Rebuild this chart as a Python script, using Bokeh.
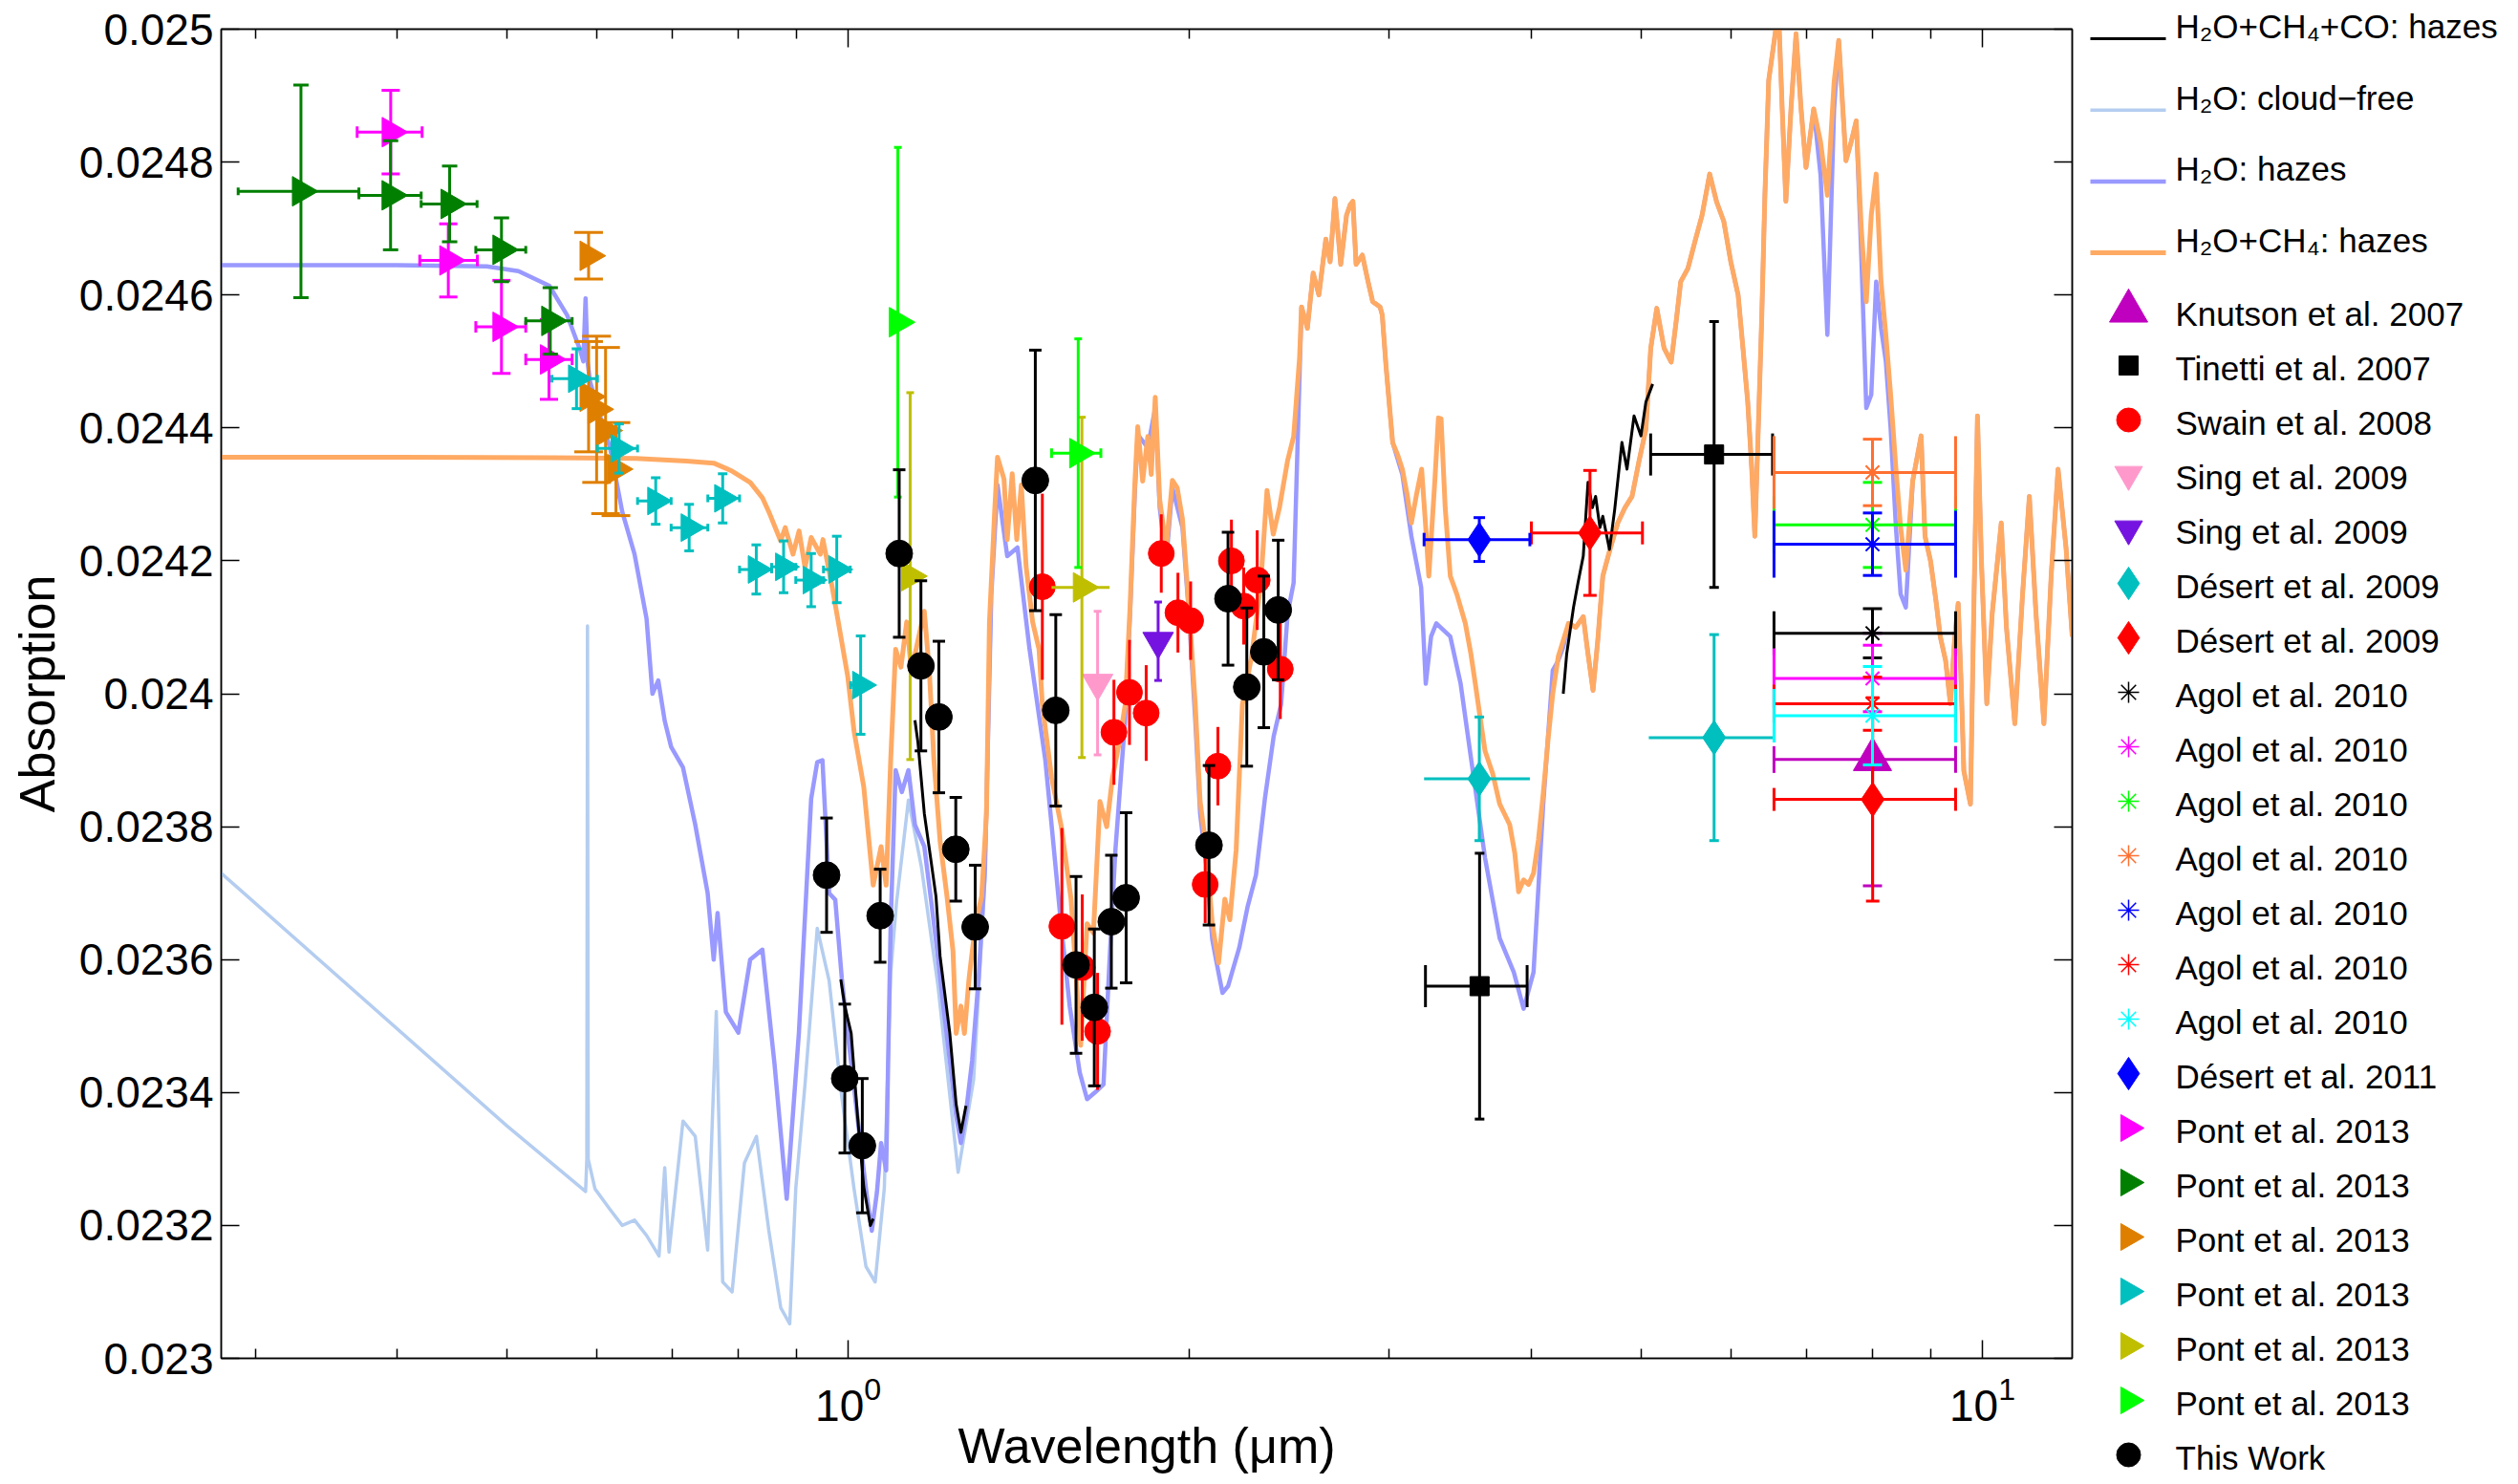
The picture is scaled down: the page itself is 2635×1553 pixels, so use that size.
import math
import numpy as np
from bokeh.plotting import figure
from bokeh.layouts import row
from bokeh.models import Range1d, FixedTicker, LinearAxis, CustomJSTickFormatter
from bokeh.embed import file_html
from bokeh.resources import INLINE
from bokeh.core.properties import value

NAN = float("nan")
FONT = "Liberation Sans"

# ---------------- axes ----------------
x_major_ticks = [1, 10]
x_minor_ticks = [0.3, 0.4, 0.5, 0.6, 0.7, 0.8, 0.9, 2, 3, 4, 5, 6, 7, 8, 9]
y_ticks = [0.023, 0.0232, 0.0234, 0.0236, 0.0238, 0.024, 0.0242, 0.0244, 0.0246, 0.0248, 0.025]

# ---------------- model spectra (wavelength um, absorption) ----------------
model_co = [(0.985, 0.02357), (0.993, 0.02353), (1.006, 0.023489), (1.019, 0.023365), (1.032, 0.023258),
            (1.046, 0.0232), (1.052, 0.02321), (NAN, NAN),
            (1.145, 0.02396), (1.152, 0.023927), (1.167, 0.02382), (1.182, 0.023753), (1.195, 0.023695),
            (1.205, 0.023605), (1.229, 0.023489), (1.245, 0.023382), (1.257, 0.02334), (1.27, 0.02338), (NAN, NAN),
            (4.27, 0.024), (4.30, 0.02406), (4.36, 0.02413), (4.40, 0.024167), (4.447, 0.024207), (4.49, 0.024318),
            (4.53, 0.02428), (4.56, 0.024297), (4.60, 0.02425), (4.627, 0.024267), (4.69, 0.024217), (4.74, 0.024277),
            (4.81, 0.024378), (4.86, 0.024338), (4.93, 0.024418), (5.0, 0.024388), (5.05, 0.024439), (5.12, 0.024466)]

model_clear = [(0.28, 0.02373), (0.50, 0.02335), (0.5867, 0.023251), (0.5882, 0.0233), (0.589, 0.024102),
               (0.5898, 0.0233), (0.598, 0.023255), (0.6166, 0.023224), (0.632, 0.0232), (0.648, 0.023208),
               (0.664, 0.023185), (0.681, 0.023154), (0.689, 0.023287), (0.695, 0.02316), (0.715, 0.023357),
               (0.733, 0.023334), (0.7517, 0.023163), (0.765, 0.023522), (0.775, 0.023115), (0.79, 0.0231),
               (0.81, 0.023294), (0.83, 0.023334), (0.851, 0.023193), (0.872, 0.023076), (0.888, 0.023052),
               (0.899, 0.023256), (0.916, 0.023412), (0.939, 0.023647), (0.962, 0.023568), (0.9865, 0.023396),
               (1.0117, 0.023256), (1.0367, 0.023138), (1.0562, 0.023115), (1.076, 0.023256), (1.09, 0.02358),
               (1.103, 0.023686), (1.13, 0.02384), (1.16, 0.02374), (1.20, 0.02356), (1.25, 0.02328),
               (1.29, 0.02342), (1.32, 0.02372), (1.337, 0.02414)]

model_h2o = [(0.28, 0.024645), (0.40, 0.024645), (0.48, 0.024643), (0.512, 0.024636), (0.545, 0.024614),
             (0.565, 0.02457), (0.58, 0.024518), (0.584, 0.0245), (0.5867, 0.024595), (0.589, 0.0245),
             (0.592, 0.02447), (0.6015, 0.024428), (0.6166, 0.02437), (0.632, 0.024274), (0.648, 0.02421),
             (0.664, 0.024113), (0.672, 0.024), (0.68, 0.02402), (0.689, 0.023959), (0.698, 0.02392),
             (0.715, 0.023889), (0.733, 0.023803), (0.7517, 0.0237), (0.761, 0.0236), (0.767, 0.02367),
             (0.78, 0.023521), (0.80, 0.02349), (0.8195, 0.0236), (0.84, 0.023615), (0.861, 0.023443),
             (0.8826, 0.02324), (0.9047, 0.02349), (0.9275, 0.023842), (0.939, 0.023897), (0.949, 0.0239),
             (0.962, 0.0237), (0.974, 0.02369), (0.987, 0.023572), (0.999, 0.023489), (1.012, 0.023407),
             (1.025, 0.023324), (1.039, 0.023242), (1.049, 0.023192), (1.06, 0.02325), (1.069, 0.023324),
             (1.08, 0.023283), (1.09, 0.023654), (1.101, 0.023885), (1.115, 0.023852), (1.13, 0.023885),
             (1.145, 0.023803), (1.167, 0.02377), (1.182, 0.023695), (1.198, 0.023613), (1.213, 0.02353),
             (1.229, 0.023448), (1.245, 0.023365), (1.257, 0.023324), (1.269, 0.023365), (1.286, 0.023448),
             (1.303, 0.023572), (1.32, 0.023737), (1.337, 0.024149), (1.354, 0.024314), (1.381, 0.024207),
             (1.41, 0.02422), (1.445, 0.024067), (1.492, 0.0239), (1.511, 0.023803), (1.541, 0.02365),
             (1.568, 0.023529), (1.60, 0.02343), (1.624, 0.02339), (1.65, 0.0234), (1.679, 0.023412),
             (1.70, 0.0236), (1.72, 0.023764), (1.754, 0.023959), (1.772, 0.02412), (1.789, 0.0243),
             (1.80, 0.02439), (1.837, 0.02437), (1.865, 0.02443), (1.882, 0.02428), (1.907, 0.0242),
             (1.931, 0.02431), (1.971, 0.02425), (1.997, 0.02412), (2.023, 0.02396), (2.043, 0.02382),
             (2.069, 0.02374), (2.094, 0.02363), (2.123, 0.023576), (2.138, 0.02355), (2.162, 0.02356),
             (2.212, 0.023618), (2.25, 0.02368), (2.288, 0.023727), (2.33, 0.023842), (2.372, 0.023936),
             (2.408, 0.023984), (2.44, 0.02412), (2.47, 0.024167), (2.50, 0.02448), (2.51, 0.024582),
             (2.54, 0.02455), (2.57, 0.024633), (2.60, 0.0246), (2.637, 0.024684), (2.66, 0.02465),
             (2.686, 0.024745), (2.718, 0.024646), (2.75, 0.02472), (2.771, 0.024736), (2.786, 0.024741),
             (2.804, 0.024646), (2.84, 0.02466), (2.873, 0.02462), (2.90, 0.02459), (2.944, 0.024582),
             (2.957, 0.02457), (2.98, 0.024492), (3.02, 0.024378), (3.08, 0.02433), (3.137, 0.024237),
             (3.20, 0.02416), (3.23, 0.024015), (3.265, 0.024086), (3.30, 0.024106), (3.395, 0.024086),
             (3.467, 0.024015), (3.54, 0.023904), (3.643, 0.023753), (3.753, 0.023632), (3.862, 0.023581),
             (3.94, 0.023526), (4.02, 0.023581), (4.10, 0.023834), (4.18, 0.024035), (4.227, 0.02405),
             (4.27, 0.02407), (4.316, 0.024106), (4.38, 0.0241), (4.447, 0.024116), (4.49, 0.02406),
             (4.536, 0.024005), (4.58, 0.02408), (4.627, 0.024177), (4.70, 0.02422), (4.77, 0.024257),
             (4.84, 0.02428), (4.91, 0.024297), (4.98, 0.02435), (5.05, 0.024398), (5.10, 0.02452),
             (5.163, 0.02458), (5.24, 0.02452), (5.316, 0.024499), (5.37, 0.02456), (5.42, 0.02462),
             (5.50, 0.02464), (5.58, 0.024681), (5.66, 0.02472), (5.748, 0.024782), (5.83, 0.02474),
             (5.915, 0.024711), (6.00, 0.02465), (6.09, 0.0246), (6.15, 0.02452), (6.21, 0.024439),
             (6.26, 0.02434), (6.30, 0.024237), (6.35, 0.02442), (6.39, 0.02457), (6.43, 0.02475),
             (6.48, 0.024923), (6.55, 0.02498), (6.61, 0.02503), (6.66, 0.02488), (6.71, 0.024741),
             (6.78, 0.02488), (6.85, 0.024993), (6.92, 0.02488), (6.99, 0.024792), (7.10, 0.02488),
             (7.20, 0.02478), (7.30, 0.02454), (7.40, 0.02488), (7.47, 0.024983), (7.58, 0.024802),
             (7.66, 0.02483), (7.74, 0.024862), (7.82, 0.02466), (7.90, 0.02443), (7.98, 0.02445),
             (8.06, 0.02462), (8.14, 0.02455), (8.22, 0.0245), (8.30, 0.0244), (8.39, 0.02425),
             (8.47, 0.02415), (8.56, 0.02413), (8.68, 0.02432), (8.83, 0.024388), (8.90, 0.024237),
             (9.00, 0.0242), (9.10, 0.02414), (9.18, 0.024086), (9.28, 0.02405), (9.37, 0.023985),
             (9.45, 0.02408), (9.52, 0.024136), (9.58, 0.02401), (9.63, 0.023884), (9.76, 0.023834),
             (9.82, 0.0241), (9.90, 0.024418), (9.98, 0.0242), (10.09, 0.023985), (10.2, 0.02412),
             (10.39, 0.024257), (10.5, 0.0241), (10.68, 0.023955), (10.85, 0.02415), (11.0, 0.024297),
             (11.15, 0.02412), (11.33, 0.023955), (11.5, 0.02418), (11.66, 0.024338), (11.85, 0.02422),
             (12.0, 0.024086)]

model_ch4 = [(0.28, 0.024356), (0.40, 0.024356), (0.55, 0.024355), (0.65, 0.024354), (0.72, 0.02435),
             (0.761, 0.024347), (0.79, 0.024335), (0.8195, 0.024318), (0.84, 0.024295), (0.851, 0.024274),
             (0.8718, 0.02423), (0.88, 0.02425), (0.8826, 0.024242), (0.894, 0.02421), (0.905, 0.024245),
             (0.916, 0.02419), (0.9275, 0.024235), (0.945, 0.02421), (0.95, 0.024232), (0.9685, 0.024158),
             (0.98, 0.024108), (0.999, 0.024026), (1.012, 0.023943), (1.032, 0.02386), (1.052, 0.023712),
             (1.069, 0.02377), (1.08, 0.023712), (1.09, 0.0239), (1.101, 0.024067), (1.113, 0.02404),
             (1.126, 0.024108), (1.137, 0.024034), (1.152, 0.02408), (1.167, 0.024124), (1.179, 0.024034),
             (1.19, 0.0239), (1.205, 0.023778), (1.222, 0.023695), (1.237, 0.023613), (1.245, 0.023489),
             (1.257, 0.02353), (1.266, 0.023489), (1.278, 0.023572), (1.295, 0.023654), (1.311, 0.023695),
             (1.324, 0.023819), (1.332, 0.024108), (1.346, 0.024273), (1.354, 0.024356), (1.372, 0.024323),
             (1.381, 0.024232), (1.395, 0.024331), (1.408, 0.024232), (1.421, 0.024314), (1.435, 0.024191),
             (1.454, 0.024108), (1.473, 0.024067), (1.483, 0.023984), (1.511, 0.023874), (1.541, 0.023801),
             (1.572, 0.023691), (1.603, 0.023471), (1.624, 0.023654), (1.645, 0.02364), (1.667, 0.023838),
             (1.69, 0.0238), (1.71, 0.023874), (1.733, 0.023925), (1.755, 0.023984), (1.772, 0.02413),
             (1.789, 0.024314), (1.80, 0.024402), (1.818, 0.02432), (1.837, 0.024387), (1.85, 0.02433),
             (1.865, 0.024446), (1.882, 0.024292), (1.907, 0.024219), (1.931, 0.024321), (1.95, 0.02431),
             (1.971, 0.024263), (1.997, 0.02413), (2.023, 0.023984), (2.043, 0.023838), (2.069, 0.023765),
             (2.094, 0.023654), (2.121, 0.023595), (2.148, 0.023691), (2.17, 0.02366), (2.198, 0.023765),
             (2.226, 0.023984), (2.268, 0.024056), (2.311, 0.024167), (2.34, 0.024306), (2.37, 0.02424),
             (2.40, 0.02428), (2.44, 0.024351), (2.47, 0.024387), (2.50, 0.024506), (2.51, 0.024582),
             (2.54, 0.02455), (2.57, 0.024633), (2.60, 0.0246), (2.637, 0.024684), (2.66, 0.02465),
             (2.686, 0.024745), (2.718, 0.024646), (2.75, 0.02472), (2.771, 0.024736), (2.786, 0.024741),
             (2.804, 0.024646), (2.84, 0.02466), (2.873, 0.02462), (2.90, 0.02459), (2.944, 0.024582),
             (2.957, 0.02457), (2.98, 0.024492), (3.02, 0.024378), (3.05, 0.02436), (3.08, 0.024338),
             (3.11, 0.0243), (3.137, 0.024257), (3.17, 0.0243), (3.203, 0.024338), (3.23, 0.02425),
             (3.25, 0.024177), (3.29, 0.02432), (3.314, 0.024415), (3.332, 0.024414), (3.36, 0.02428),
             (3.395, 0.024177), (3.44, 0.02415), (3.50, 0.024106), (3.54, 0.02406), (3.572, 0.024015),
             (3.61, 0.02396), (3.643, 0.023914), (3.70, 0.02388), (3.753, 0.023834), (3.83, 0.023803),
             (3.87, 0.02376), (3.90, 0.023702), (3.94, 0.02372), (3.98, 0.023713), (4.02, 0.02373),
             (4.06, 0.02378), (4.10, 0.02385), (4.142, 0.023934), (4.18, 0.024), (4.227, 0.024056),
             (4.27, 0.02408), (4.316, 0.024106), (4.38, 0.0241), (4.447, 0.024116), (4.49, 0.02406),
             (4.536, 0.024005), (4.58, 0.02408), (4.627, 0.024177), (4.70, 0.02422), (4.77, 0.024257),
             (4.84, 0.02428), (4.91, 0.024297), (4.98, 0.02435), (5.05, 0.024398), (5.10, 0.02452),
             (5.163, 0.02458), (5.24, 0.02452), (5.316, 0.024499), (5.37, 0.02456), (5.42, 0.02462),
             (5.50, 0.02464), (5.58, 0.024681), (5.66, 0.02472), (5.748, 0.024782), (5.83, 0.02474),
             (5.915, 0.024711), (6.00, 0.02465), (6.09, 0.0246), (6.15, 0.02452), (6.21, 0.024439),
             (6.26, 0.02434), (6.30, 0.024237), (6.35, 0.02442), (6.39, 0.02457), (6.43, 0.02475),
             (6.48, 0.024923), (6.55, 0.02498), (6.61, 0.02503), (6.66, 0.02488), (6.71, 0.024741),
             (6.78, 0.02488), (6.85, 0.024993), (6.92, 0.02488), (6.99, 0.024792), (7.10, 0.02488),
             (7.20, 0.02483), (7.30, 0.02475), (7.40, 0.02492), (7.47, 0.024983), (7.58, 0.024802),
             (7.66, 0.02483), (7.74, 0.024862), (7.82, 0.0247), (7.90, 0.02459), (7.98, 0.02472),
             (8.06, 0.024782), (8.14, 0.02462), (8.22, 0.02454), (8.30, 0.02445), (8.39, 0.024338),
             (8.47, 0.02425), (8.56, 0.024186), (8.68, 0.02432), (8.83, 0.024388), (8.90, 0.024237),
             (9.00, 0.0242), (9.10, 0.02414), (9.18, 0.024086), (9.28, 0.02405), (9.37, 0.023985),
             (9.45, 0.02408), (9.52, 0.024136), (9.58, 0.02401), (9.63, 0.023884), (9.76, 0.023834),
             (9.82, 0.0241), (9.90, 0.024418), (9.98, 0.0242), (10.09, 0.023985), (10.2, 0.02412),
             (10.39, 0.024257), (10.5, 0.0241), (10.68, 0.023955), (10.85, 0.02415), (11.0, 0.024297),
             (11.15, 0.02412), (11.33, 0.023955), (11.5, 0.02418), (11.66, 0.024338), (11.85, 0.02422),
             (12.0, 0.024086)]

# ---------------- observations ----------------
knutson_x = [8.0]
knutson_y = [0.023901]
knutson_err = [0.00019]
knutson_xlo = [6.55]
knutson_xhi = [9.47]

tinetti_x = [3.603, 5.80]
tinetti_y = [0.02356, 0.02436]
tinetti_err = [0.0002, 0.0002]
tinetti_xlo = [3.228, 5.099]
tinetti_xhi = [3.968, 6.531]

swain_x = [1.483, 1.543, 1.608, 1.659, 1.715, 1.770, 1.831, 1.888, 1.953, 2.004, 2.064, 2.118, 2.177, 2.232, 2.294, 2.404]
swain_y = [0.024161, 0.02365, 0.023588, 0.023492, 0.023942, 0.024002, 0.023971, 0.024211, 0.024122, 0.02411,
           0.023713, 0.023891, 0.0242, 0.024132, 0.024171, 0.024037]
swain_err = [0.00014, 0.000148, 0.00011, 0.000088, 0.000079, 0.000079, 0.000072, 0.000059, 0.00006, 0.000059,
             0.000058, 0.000059, 0.000062, 0.000058, 0.000075, 0.000075]

sing_a_x = [1.659]
sing_a_y = [0.024016]
sing_a_err = [0.000108]
sing_b_x = [1.876]
sing_b_y = [0.024079]
sing_b_err = [0.000059]

desert09a_x = [3.601, 5.80]
desert09a_y = [0.023872, 0.023934]
desert09a_err = [0.000093, 0.000155]
desert09a_xlo = [3.219, 5.08]
desert09a_xhi = [3.99, 6.55]

desert09b_x = [4.508, 8.003]
desert09b_y = [0.024242, 0.023841]
desert09b_err = [0.000094, 0.000153]
desert09b_xlo = [4.002, 6.55]
desert09b_xhi = [5.015, 9.47]

agol_wl = 8.0
agol_wl_lo = 6.55
agol_wl_hi = 9.47
agol_y = [0.024091, 0.024023, 0.024254, 0.024333, 0.024225, 0.023985, 0.023967]
agol_err = [0.000037, 0.00005, 0.000064, 0.00005, 0.000047, 0.00004, 0.000074]

desert11_x = [3.601]
desert11_y = [0.024232]
desert11_err = [0.000033]
desert11_xlo = [3.219]
desert11_xhi = [3.99]

pont_m_x = [0.395, 0.444, 0.4946, 0.5447]
pont_m_y = [0.024845, 0.024652, 0.024552, 0.024503]
pont_m_err = [0.000063, 0.000055, 0.00007, 0.00006]
pont_m_xlo = [0.369, 0.419, 0.4695, 0.5196]
pont_m_xhi = [0.421, 0.471, 0.5196, 0.5709]

pont_g_x = [0.3292, 0.3949, 0.4452, 0.4946, 0.5461]
pont_g_y = [0.024756, 0.02475, 0.024737, 0.024668, 0.024561]
pont_g_err = [0.00016, 0.000082, 0.000057, 0.000048, 0.00005]
pont_g_xlo = [0.2898, 0.3703, 0.4202, 0.4695, 0.5196]
pont_g_xhi = [0.3703, 0.4202, 0.4707, 0.5196, 0.5709]

pont_o_x = [0.5903, 0.5903, 0.600, 0.611, 0.624]
pont_o_y = [0.024659, 0.024447, 0.024428, 0.024396, 0.024338]
pont_o_err = [0.000035, 0.000083, 0.00011, 0.000125, 0.00007]

pont_c_x = [0.576, 0.628, 0.6765, 0.724, 0.775, 0.8297, 0.877, 0.9275, 0.977, 1.0255]
pont_c_y = [0.024474, 0.024369, 0.02429, 0.02425, 0.024294, 0.024187, 0.024191, 0.024171, 0.024187, 0.024013]
pont_c_err = [0.000045, 0.000037, 0.000035, 0.000035, 0.000037, 0.000037, 0.000039, 0.00004, 0.00005, 0.000074]
pont_c_xlo = [0.548, 0.601, 0.652, 0.698, 0.752, 0.802, 0.856, 0.899, 0.951, 1.005]
pont_c_xhi = [0.601, 0.652, 0.698, 0.752, 0.802, 0.856, 0.899, 0.951, 1.004, 1.045]

pont_y_x = [1.134, 1.607]
pont_y_y = [0.024177, 0.02416]
pont_y_err = [0.000276, 0.000256]
pont_y_xlo = [NAN, 1.511]
pont_y_xhi = [NAN, 1.70]

pont_l_x = [1.106, 1.595]
pont_l_y = [0.024559, 0.024362]
pont_l_err = [0.000263, 0.000172]
pont_l_xlo = [NAN, 1.511]
pont_l_xhi = [NAN, 1.67]

work_x = [0.957, 0.993, 1.029, 1.067, 1.109, 1.159, 1.202, 1.244, 1.294, 1.462,
          1.524, 1.588, 1.648, 1.706, 1.758, 2.080, 2.162, 2.246, 2.325, 2.394]
work_y = [0.023727, 0.023421, 0.02332, 0.023666, 0.024211, 0.024042, 0.023965, 0.023766, 0.023649, 0.024321,
          0.023975, 0.023592, 0.023528, 0.023657, 0.023693, 0.023772, 0.024143, 0.02401, 0.024063, 0.024126]
work_err = [0.000086, 0.000112, 0.000101, 0.00007, 0.000126, 0.000128, 0.000114, 0.000078, 0.000093, 0.000196,
            0.000144, 0.000133, 0.000118, 0.0001, 0.000128, 0.00012, 0.0001, 0.000119, 0.000114, 0.000105]

model_labels = ["H\u2082O+CH\u2084+CO: hazes", "H\u2082O: cloud\u2212free", "H\u2082O: hazes", "H\u2082O+CH\u2084: hazes"]
data_labels = ["Knutson et al. 2007", "Tinetti et al. 2007", "Swain et al. 2008", "Sing et al. 2009",
               "Sing et al. 2009", "D\u00e9sert et al. 2009", "D\u00e9sert et al. 2009",
               "Agol et al. 2010", "Agol et al. 2010", "Agol et al. 2010", "Agol et al. 2010",
               "Agol et al. 2010", "Agol et al. 2010", "Agol et al. 2010", "D\u00e9sert et al. 2011",
               "Pont et al. 2013", "Pont et al. 2013", "Pont et al. 2013", "Pont et al. 2013",
               "Pont et al. 2013", "Pont et al. 2013", "This Work"]

# ---------------- styles ----------------
C_CO, C_CLEAR, C_H2O, C_CH4 = "#000000", "#b4cdf0", "#9999ff", "#ffaa64"
model_colors = [C_CO, C_CLEAR, C_H2O, C_CH4]
model_widths = [3, 3.5, 4.5, 5]
agol_colors = ["#000000", "#ff00ff", "#00ff00", "#ff7030", "#0000ff", "#ff0000", "#00ffff"]
agol_caph = [46, 63, 60, 76, 70, 40, 56]
RIGHT = -math.pi / 2

# ---------------- main figure ----------------
MAIN_W, H = 2173, 1553
p = figure(width=MAIN_W, height=H, x_axis_type="log", title=None,
           x_range=Range1d(0.28, 12.0), y_range=Range1d(0.023, 0.025),
           output_backend="svg", toolbar_location=None,
           min_border_left=231, min_border_right=5, min_border_top=30, min_border_bottom=132)
p.grid.visible = False
p.outline_line_color = "black"
p.outline_line_width = 1.5
p.background_fill_color = "white"
p.border_fill_color = "white"

xt = FixedTicker(ticks=x_major_ticks, minor_ticks=x_minor_ticks)
yt = FixedTicker(ticks=y_ticks, minor_ticks=[])


def style_axis(ax, show):
    ax.axis_line_color = "black"
    ax.axis_line_width = 1.5
    ax.major_tick_line_color = "black"
    ax.minor_tick_line_color = "black"
    ax.major_tick_line_width = 1.5
    ax.minor_tick_line_width = 1.5
    ax.major_tick_in = 19
    ax.major_tick_out = 0
    ax.minor_tick_in = 10
    ax.minor_tick_out = 0
    ax.major_label_text_font = FONT
    ax.major_label_text_color = "black"
    if show:
        ax.major_label_text_font_size = "46px"
    else:
        ax.major_label_text_font_size = "1px"
        ax.major_label_text_color = None
        ax.major_label_standoff = 0


xa = p.xaxis[0]
xa.ticker = xt
style_axis(xa, True)
xa.major_label_standoff = 18
xa.axis_label = "Wavelength (\u03bcm)"
xa.axis_label_text_font = FONT
xa.axis_label_text_font_size = "52px"
xa.axis_label_text_font_style = "normal"
xa.axis_label_text_color = "black"
xa.axis_label_standoff = -6

ya = p.yaxis[0]
ya.ticker = yt
style_axis(ya, True)
ya.formatter = CustomJSTickFormatter(code="return (Math.round(tick * 1e4) / 1e4).toString();")
ya.major_label_standoff = 8
ya.axis_label = "Absorption"
ya.axis_label_text_font = FONT
ya.axis_label_text_font_size = "52px"
ya.axis_label_text_font_style = "normal"
ya.axis_label_text_color = "black"
ya.axis_label_standoff = 12

top_axis = LinearAxis(ticker=xt)
style_axis(top_axis, False)
top_axis.formatter = CustomJSTickFormatter(code="return '';")
p.add_layout(top_axis, "above")
right_axis = LinearAxis(ticker=yt)
style_axis(right_axis, False)
right_axis.formatter = CustomJSTickFormatter(code="return '';")
p.add_layout(right_axis, "right")

# model curves (drawn bottom to top)
for pts, col, w in [(model_clear, C_CLEAR, 3.5), (model_h2o, C_H2O, 4.5), (model_ch4, C_CH4, 5), (model_co, C_CO, 3)]:
    arr = np.array(pts, dtype=float)
    p.line(arr[:, 0], arr[:, 1], line_color=col, line_width=w, line_join="round")


def draw_series(x, y, color, marker, size, yerr=None, xlo=None, xhi=None,
                capw=0, caph=0, lw=3, angle=0.0):
    x = np.asarray(x, dtype=float)
    y = np.asarray(y, dtype=float)
    if xlo is not None:
        lo = np.asarray(xlo, dtype=float)
        hi = np.asarray(xhi, dtype=float)
        ok = ~np.isnan(lo)
        p.segment(x0=lo[ok], y0=y[ok], x1=hi[ok], y1=y[ok], line_color=color, line_width=lw)
        if caph:
            p.scatter(x=np.concatenate([lo[ok], hi[ok]]), y=np.concatenate([y[ok], y[ok]]), marker="dash",
                      angle=math.pi / 2, size=caph, line_color=color, line_width=lw)
    if yerr is not None:
        e = np.asarray(yerr, dtype=float)
        p.segment(x0=x, y0=y - e, x1=x, y1=y + e, line_color=color, line_width=lw)
        if capw:
            p.scatter(x=np.concatenate([x, x]), y=np.concatenate([y - e, y + e]), marker="dash",
                      size=capw, line_color=color, line_width=lw)
    if marker == "asterisk":
        p.scatter(x=x, y=y, marker=marker, size=size, line_color=color, line_width=2)
    else:
        p.scatter(x=x, y=y, marker=marker, size=size, angle=angle,
                  fill_color=color, line_color=color, line_width=1)


draw_series(knutson_x, knutson_y, "#bf00bf", "triangle", 40, knutson_err, knutson_xlo, knutson_xhi, capw=20, caph=28)
draw_series(tinetti_x, tinetti_y, "#000000", "square", 20, tinetti_err, tinetti_xlo, tinetti_xhi, capw=10, caph=44)
draw_series(swain_x, swain_y, "#ff0000", "circle", 27, swain_err)
draw_series(sing_a_x, sing_a_y, "#ff99cc", "inverted_triangle", 32, sing_a_err, capw=8)
draw_series(sing_b_x, sing_b_y, "#7514e0", "inverted_triangle", 32, sing_b_err, capw=8)
draw_series(desert09a_x, desert09a_y, "#00bfbf", "diamond", 36, desert09a_err, desert09a_xlo, desert09a_xhi, capw=10)
draw_series(desert09b_x, desert09b_y, "#ff0000", "diamond", 36, desert09b_err, desert09b_xlo, desert09b_xhi, capw=14, caph=24)
for k in range(len(agol_y)):
    draw_series([agol_wl], [agol_y[k]], agol_colors[k], "asterisk", 20, [agol_err[k]],
                [agol_wl_lo], [agol_wl_hi], capw=20, caph=agol_caph[k])
draw_series(desert11_x, desert11_y, "#0000ff", "diamond", 36, desert11_err, desert11_xlo, desert11_xhi, capw=12, caph=14)
draw_series(pont_m_x, pont_m_y, "#ff00ff", "triangle", 31, pont_m_err, pont_m_xlo, pont_m_xhi, capw=19, caph=12, angle=RIGHT)
draw_series(pont_g_x, pont_g_y, "#007f00", "triangle", 31, pont_g_err, pont_g_xlo, pont_g_xhi, capw=16, caph=8, angle=RIGHT)
draw_series(pont_o_x, pont_o_y, "#df7f00", "triangle", 31, pont_o_err, capw=30, angle=RIGHT)
draw_series(pont_c_x, pont_c_y, "#00bfbf", "triangle", 29, pont_c_err, pont_c_xlo, pont_c_xhi, capw=10, caph=8, angle=RIGHT)
draw_series(pont_y_x, pont_y_y, "#bfbf00", "triangle", 31, pont_y_err, pont_y_xlo, pont_y_xhi, capw=8, angle=RIGHT)
draw_series(pont_l_x, pont_l_y, "#00ff00", "triangle", 31, pont_l_err, pont_l_xlo, pont_l_xhi, capw=8, caph=10, angle=RIGHT)
draw_series(work_x, work_y, "#000000", "circle", 28, work_err, capw=13)

# ---------------- legend panel ----------------
LW = 2635 - MAIN_W - 2
leg = figure(width=LW, height=H, x_range=Range1d(0, LW), y_range=Range1d(H, 0), title=None,
             output_backend="svg", toolbar_location=None, min_border=0,
             x_axis_location=None, y_axis_location=None)
leg.grid.visible = False
leg.outline_line_color = None
leg.background_fill_color = "white"
leg.border_fill_color = "white"
try:
    leg.frame_align = False
    p.frame_align = False
except Exception:
    pass

line_row0, line_pitch = 40, 74.7
mark_row0, mark_pitch = 325, 57.0
TX = 103

for i, lab in enumerate(model_labels):
    yy = line_row0 + line_pitch * i
    leg.segment(x0=[14], y0=[yy], x1=[93], y1=[yy], line_color=model_colors[i], line_width=model_widths[i])
    leg.text(x=[TX], y=[yy - 13], text=[lab], text_font=value(FONT), text_font_size="35px",
             text_baseline="middle", text_align="left", text_color="black")

legend_markers = [("triangle", "#bf00bf", 40, 0.0), ("square", "#000000", 20, 0.0), ("circle", "#ff0000", 25, 0.0),
                  ("inverted_triangle", "#ff99cc", 29, 0.0), ("inverted_triangle", "#7514e0", 29, 0.0),
                  ("diamond", "#00bfbf", 34, 0.0), ("diamond", "#ff0000", 34, 0.0)]
legend_markers += [("asterisk", c, 22, 0.0) for c in agol_colors]
legend_markers += [("diamond", "#0000ff", 34, 0.0)]
legend_markers += [("triangle", c, 28, RIGHT) for c in ["#ff00ff", "#007f00", "#df7f00", "#00bfbf", "#bfbf00", "#00ff00"]]
legend_markers += [("circle", "#000000", 25, 0.0)]

for j, (mk, col, sz, ang) in enumerate(legend_markers):
    yy = mark_row0 + mark_pitch * j
    if mk == "asterisk":
        leg.scatter(x=[54], y=[yy], marker=mk, size=sz, line_color=col, line_width=1.5)
    else:
        leg.scatter(x=[54], y=[yy], marker=mk, size=sz, angle=ang, fill_color=col, line_color=col, line_width=1)
    leg.text(x=[TX], y=[yy + 3], text=[data_labels[j]], text_font=value(FONT), text_font_size="35px",
             text_baseline="middle", text_align="left", text_color="black")

layout = row(p, leg)
open("out.html", "w").write(file_html(layout, INLINE))
